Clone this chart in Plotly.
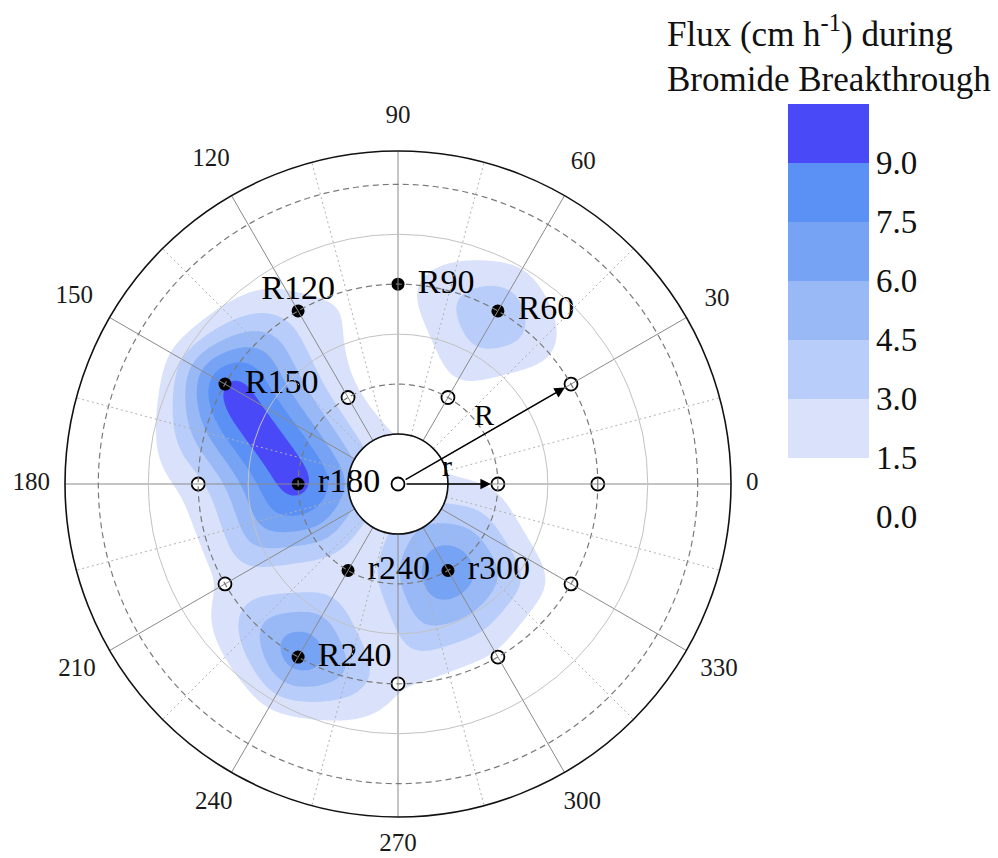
import numpy as np
import plotly.graph_objects as go

# ---- sampling sites: centre, inner ring r (radius 3) and outer ring R (radius 6)
site_names = ["C", "r0", "r60", "r120", "r180", "r240", "r300",
              "R0", "R30", "R60", "R90", "R120", "R150", "R180",
              "R210", "R240", "R270", "R300", "R330"]
site_radius = [0, 3, 3, 3, 3, 3, 3,
               6, 6, 6, 6, 6, 6, 6, 6, 6, 6, 6, 6]
site_angle = [0, 0, 60, 120, 180, 240, 300,
              0, 30, 60, 90, 120, 150, 180, 210, 240, 270, 300, 330]
# flux (cm/h) during bromide breakthrough at each site
site_flux = [1.8, 1.0, 0.9, 1.4, 11.0, 1.2, 8.3,
             0.0, 0.0, 5.2, 0.9, 2.0, 11.0, 2.0,
             1.5, 8.6, 1.5, 1.0, 0.3]
site_labelled = [False, False, False, False, True, True, True,
                 False, False, True, True, True, True, False,
                 False, True, False, False, False]

# colour levels of the filled contour map
level_ticks = [0.0, 1.5, 3.0, 4.5, 6.0, 7.5, 9.0]
level_colors = ["#ffffff", "#d9e2fa", "#b9cdfa", "#98b9f5",
                "#77a3f4", "#5b91f5", "#4949f8"]
angle_ticks = list(range(0, 360, 30))

R_OUT = 10.0     # outer radius of the plot
R_HOLE = 1.5     # radius of the central opening
R_RING = 6.0     # outer sampling ring
PX = 666 / (2 * R_OUT)   # pixels per radial unit
CX, CY = 398, 374        # plot centre in pixels (from the bottom-left corner)
W, H = 998, 858
SERIF = "Liberation Serif"

rad = np.deg2rad(site_angle)
sx = np.array(site_radius) * np.cos(rad)
sy = np.array(site_radius) * np.sin(rad)
flux = np.array(site_flux)
idx = {nm: i for i, nm in enumerate(site_names)}

# ---- surface: linear interpolation on the ring triangulation
def ri(k):
    return idx[f"r{(60 * k) % 360}"]

def Ri(j):
    return idx[f"R{(30 * j) % 360}"]

tris = []
for k in range(6):
    tris += [(idx["C"], ri(k), ri(k + 1)),
             (ri(k), ri(k + 1), Ri(2 * k + 1)),
             (ri(k), Ri(2 * k), Ri(2 * k + 1)),
             (ri(k), Ri(2 * k - 1), Ri(2 * k))]

g = np.linspace(-R_OUT, R_OUT, 361)
GX, GY = np.meshgrid(g, g)
Z = np.full(GX.shape, np.nan)
for a, b, c in tris:
    x1, y1, x2, y2, x3, y3 = sx[a], sy[a], sx[b], sy[b], sx[c], sy[c]
    det = (y2 - y3) * (x1 - x3) + (x3 - x2) * (y1 - y3)
    l1 = ((y2 - y3) * (GX - x3) + (x3 - x2) * (GY - y3)) / det
    l2 = ((y3 - y1) * (GX - x3) + (x1 - x3) * (GY - y3)) / det
    l3 = 1 - l1 - l2
    inside = (l1 >= -1e-9) & (l2 >= -1e-9) & (l3 >= -1e-9)
    Z[inside] = (l1 * flux[a] + l2 * flux[b] + l3 * flux[c])[inside]

# beyond the outer ring the surface tapers linearly to zero
taper = 2.2
ang = np.degrees(np.arctan2(GY, GX)) % 360
j0 = np.floor(ang / 30).astype(int)
t = ang / 30 - j0
ring_vals = np.array([flux[Ri(j)] for j in range(12)])
edge_val = (1 - t) * ring_vals[j0 % 12] + t * ring_vals[(j0 + 1) % 12]
rho = np.hypot(GX, GY)
rho_hull = R_RING * np.cos(np.radians(15)) / np.cos(np.radians(ang - 30 * j0 - 15))
outside = np.isnan(Z)
Z[outside] = (edge_val * np.clip(1 - (rho - rho_hull) / taper, 0, 1))[outside]

# light Gaussian smoothing of the gridded surface
sb = 0.45
M = np.exp(-(g[:, None] - g[None, :]) ** 2 / (2 * sb ** 2))
M /= M.sum(axis=1, keepdims=True)
Z = M @ Z @ M.T
Z = np.round(np.clip(Z, 0, None), 3)

n = len(level_colors) - 1
cscale = [[i / n, c] for i, c in enumerate(level_colors)]

fig = go.Figure()

fig.add_trace(go.Contour(
    x=g, y=g, z=Z, xaxis="x", yaxis="y",
    contours=dict(start=1.5, end=9.0, size=1.5, coloring="fill", showlines=False),
    colorscale=cscale, zmin=0, zmax=10.5, line_width=0, line_smoothing=1.0,
    hoverinfo="skip",
    colorbar=dict(
        thickness=81, thicknessmode="pixels", len=413, lenmode="pixels",
        x=788 / W, xanchor="left", y=(H - 310) / H, yanchor="middle",
        xpad=0, ypad=0, outlinewidth=0, ticks="",
        tickmode="array", tickvals=level_ticks,
        ticktext=[f"{v:.1f}" for v in level_ticks],
        tickfont=dict(family=SERIF, size=33, color="#111111"),
    ),
))

# white central opening
th = np.linspace(0, 2 * np.pi, 181)
fig.add_trace(go.Scatter(
    x=R_HOLE * np.cos(th), y=R_HOLE * np.sin(th), mode="lines",
    fill="toself", fillcolor="white", line=dict(color="#9a9a9a", width=1),
    hoverinfo="skip", showlegend=False,
))

mask = np.array(site_labelled)
# open circles: sites without a labelled flux reading
fig.add_trace(go.Scatter(
    x=sx[~mask], y=sy[~mask], mode="markers",
    marker=dict(size=13, color="white", line=dict(color="black", width=1.8)),
    hoverinfo="skip", showlegend=False,
))
# filled circles: labelled sites
fig.add_trace(go.Scatter(
    x=sx[mask], y=sy[mask], mode="markers",
    marker=dict(size=13, color="black"),
    hoverinfo="skip", showlegend=False,
))
names = np.array(site_names)
side = mask & (names != "R120")
above = mask & (names == "R120")
label_font = dict(family=SERIF, size=34, color="black")
fig.add_trace(go.Scatter(
    x=sx[side], y=sy[side], mode="markers+text", text=list(names[side]),
    textposition="middle right", textfont=label_font,
    marker=dict(size=30, opacity=0), hoverinfo="skip", showlegend=False,
))
fig.add_trace(go.Scatter(
    x=sx[above], y=sy[above], mode="markers+text", text=list(names[above]),
    textposition="top center", textfont=label_font,
    marker=dict(size=4, opacity=0), hoverinfo="skip", showlegend=False,
))

# angle labels around the rim
a_rad = np.deg2rad(angle_ticks)
lab_w = np.array([12.5 * len(str(a)) for a in angle_ticks])
lab_r = (333 + 15 + np.abs(np.cos(a_rad)) * lab_w / 2
         + np.where(np.sin(a_rad) > 0, 19, 13) * np.abs(np.sin(a_rad))) / PX
fig.add_trace(go.Scatter(
    x=lab_r * np.cos(a_rad), y=lab_r * np.sin(a_rad), mode="text",
    text=[str(a) for a in angle_ticks], textposition="middle center",
    textfont=dict(family=SERIF, size=25, color="#1a1a1a"),
    cliponaxis=False, hoverinfo="skip", showlegend=False,
))

# polar grid decoration: dashed rings and dotted half-step spokes
ring_theta = np.linspace(0, 360, 361)
for rr in [3, 6, 9]:
    fig.add_trace(go.Scatterpolar(
        r=[rr] * len(ring_theta), theta=ring_theta, mode="lines",
        line=dict(color="#7a7a7a", width=1.2, dash="6px,4px"),
        hoverinfo="skip", showlegend=False,
    ))
for a in range(15, 360, 30):
    fig.add_trace(go.Scatterpolar(
        r=[R_HOLE, R_OUT], theta=[a, a], mode="lines",
        line=dict(color="#b0b0b0", width=1, dash="2px,3px"),
        hoverinfo="skip", showlegend=False,
    ))

# arrows marking the inner (r) and outer (R) ring radii
annotations = []
for nm in ["r0", "R30"]:
    annotations.append(dict(
        x=sx[idx[nm]], y=sy[idx[nm]], ax=0, ay=0,
        xref="x", yref="y", axref="x", ayref="y",
        text="", showarrow=True, arrowhead=2, arrowsize=1.4, arrowwidth=1.5,
        arrowcolor="black", standoff=7, startstandoff=7,
    ))
annotations.append(dict(x=2.58, y=2.1, xref="x", yref="y", text="R",
                        showarrow=False, font=dict(family=SERIF, size=30, color="black")))
annotations.append(dict(x=1.47, y=0.55, xref="x", yref="y", text="r",
                        showarrow=False, font=dict(family=SERIF, size=30, color="black")))
annotations.append(dict(
    x=665 / W, y=1 - 7 / H, xref="paper", yref="paper",
    xanchor="left", yanchor="top", align="left", showarrow=False,
    text="Flux (cm h<sup>-1</sup>) during<br>Bromide Breakthrough",
    font=dict(family=SERIF, size=35, color="#111111"),
))

# cartesian frame shares the polar centre and scale, with room for the rim labels
x_rng = [-11.6, 11.6]
y_rng = [-11.1, 11.6]
dom_x = [(CX + x_rng[0] * PX) / W, (CX + x_rng[1] * PX) / W]
dom_y = [(CY + y_rng[0] * PX) / H, (CY + y_rng[1] * PX) / H]
pol_x = [(CX - 333) / W, (CX + 333) / W]
pol_y = [(CY - 333) / H, (CY + 333) / H]

fig.update_layout(
    width=W, height=H, margin=dict(l=0, r=0, t=0, b=0),
    paper_bgcolor="white", plot_bgcolor="white", showlegend=False,
    xaxis=dict(domain=dom_x, range=x_rng, visible=False, fixedrange=True),
    yaxis=dict(domain=dom_y, range=y_rng, visible=False, fixedrange=True),
    polar=dict(
        domain=dict(x=pol_x, y=pol_y), hole=R_HOLE / R_OUT,
        bgcolor="rgba(0,0,0,0)",
        angularaxis=dict(
            rotation=0, direction="counterclockwise",
            tickmode="array", tickvals=angle_ticks, showticklabels=False,
            showgrid=True, gridcolor="#8a8a8a", gridwidth=1.1,
            showline=True, linecolor="#111111", linewidth=1.6, ticks="",
        ),
        radialaxis=dict(
            range=[R_HOLE, R_OUT], tickmode="array", tickvals=[4.5, 7.5],
            showticklabels=False, ticks="", showline=False,
            gridcolor="#c2c2c2", gridwidth=1,
        ),
    ),
    annotations=annotations,
)

fig.write_html("out.html")
